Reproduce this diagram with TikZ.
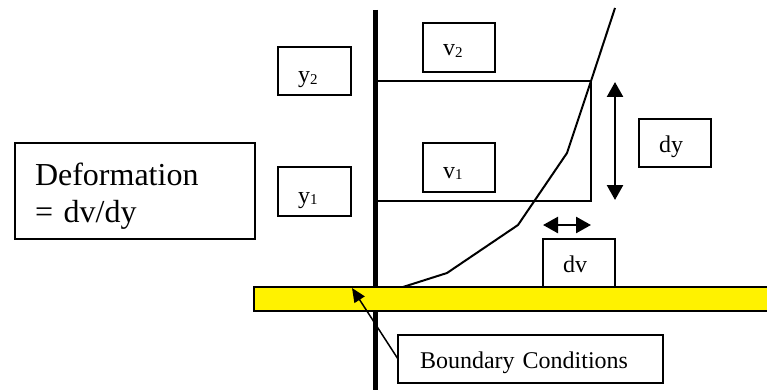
\documentclass[tikz,border=0pt]{standalone}
\usepackage{fontspec}
\setmainfont{Liberation Serif}
\usetikzlibrary{arrows.meta}
\newcommand\mysub[1]{{\fontsize{15}{15}\selectfont\raisebox{-1.5pt}{#1}}}
\begin{document}
\begin{tikzpicture}[x=1pt,y=-1pt,
  tbox/.style={draw=black, line width=1.5pt, fill=white, anchor=north west,
    outer sep=0pt, inner ysep=0pt, inner xsep=20pt, align=left,
    font=\fontsize{24}{28}\selectfont},
  thin line/.style={line width=1.8pt},
  bigarrow/.style={line width=2.5pt, {Triangle[length=15pt,width=16pt]}-{Triangle[length=15pt,width=16pt]}},
]
\useasboundingbox[fill=white] (0,0) rectangle (767,390);

% coordinates
\coordinate (vtop) at (375,10);
\coordinate (vbot) at (375,392);
\coordinate (h2l) at (375,81);
\coordinate (c2) at (591,81);
\coordinate (c1) at (591,201);
\coordinate (h1l) at (375,201);
\coordinate (p0) at (615,8);
\coordinate (p2) at (567,153);
\coordinate (p3) at (518,225);
\coordinate (p4) at (447,273);
\coordinate (p5) at (403,287);
\coordinate (dyt) at (615,82);
\coordinate (dyb) at (615,200);
\coordinate (dvl) at (543,225);
\coordinate (dvr) at (591,225);
\coordinate (bctip) at (352,288);

% wall
\draw[line width=5pt] (vtop) -- (vbot);

% element lines
\draw[thin line] (h2l) -- (c2) -- (c1) -- (h1l);

% velocity profile
\draw[line width=2pt, line join=round] (p0) -- (c2) -- (p2) -- (p3) -- (p4) -- (p5);

% arrows
\draw[bigarrow] (dyt) -- (dyb);
\draw[bigarrow] (dvl) -- (dvr);

% text boxes
\node[tbox, text width=200pt, text height=42pt, text depth=54pt,
      font=\fontsize{32}{37}\selectfont] (def) at (15,143) {Deformation\\= dv/dy};
\node[tbox, text width=33pt, text height=36pt, text depth=12pt] (y2) at (278,47) {y\mysub{2}};
\node[tbox, text width=33pt, text height=36pt, text depth=13pt] (y1) at (278,167) {y\mysub{1}};
\node[tbox, text width=32pt, text height=33pt, text depth=16pt] (v2) at (423,23) {v\mysub{2}};
\node[tbox, text width=32pt, text height=35pt, text depth=14pt] (v1) at (423,143) {v\mysub{1}};
\node[tbox, text width=32pt, text height=34pt, text depth=14pt] (dy) at (639,119) {dy};
\node[tbox, text width=32pt, text height=33pt, text depth=15pt] (dv) at (543,239) {dv};

% yellow bar
\draw[fill=yellow, line width=1.5pt] (254,287) rectangle (790,311);

% boundary box and arrow
\node[tbox, text width=225pt, text height=33pt, text depth=15pt, inner xsep=20pt] (bc) at (398,335) {\hspace{2pt}Boundary Conditions};
\draw[line width=1.5pt, -{Triangle[length=14pt,width=12pt]}] (bc.west) -- (bctip);
\end{tikzpicture}
\end{document}
